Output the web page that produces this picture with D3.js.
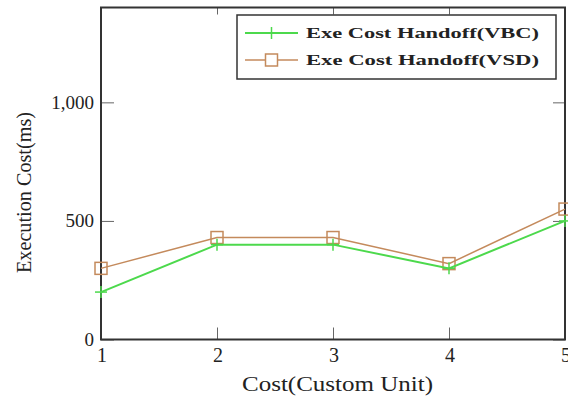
<!DOCTYPE html>
<html><head><meta charset="utf-8">
<script src="https://cdn.jsdelivr.net/npm/d3@7"></script>
<style>body{margin:0;background:#fff}</style>
</head><body>
<svg id="c" width="568" height="403"></svg>
<script>
const categories = [1, 2, 3, 4, 5];
const vbcValues = [200, 400, 400, 300, 500];
const vsdValues = [300, 430, 430, 320, 550];
const yTicks = [0, 500, 1000];
const yTickLabels = ["0", "500", "1,000"];
const seriesNames = ["Exe Cost Handoff(VBC)", "Exe Cost Handoff(VSD)"];

const svg = d3.select("#c");
const L = 101, R = 565, T = 7.5, B = 339.5;
const x = d3.scaleLinear().domain([1, 5]).range([L, R]);
const y = d3.scaleLinear().domain([0, 1400]).range([B, T]);
const font = "'Liberation Serif', 'DejaVu Serif', serif";
const axisColor = "#333";

// ticks (inward, mirrored)
const g = svg.append("g");
const xb = g.append("g").attr("transform", `translate(0,${B})`)
  .call(d3.axisTop(x).tickValues(categories).tickSize(12).tickFormat(""));
const xt = g.append("g").attr("transform", `translate(0,${T})`)
  .call(d3.axisBottom(x).tickValues(categories).tickSize(7).tickFormat(""));
const yl = g.append("g").attr("transform", `translate(${L},0)`)
  .call(d3.axisRight(y).tickValues(yTicks).tickSize(13).tickFormat(""));
const yr = g.append("g").attr("transform", `translate(${R},0)`)
  .call(d3.axisLeft(y).tickValues(yTicks).tickSize(12).tickFormat(""));
[xb, xt, yl, yr].forEach(a => {
  a.select(".domain").remove();
  a.selectAll("line").attr("stroke", "#666").attr("stroke-width", 1);
});

// tick labels
svg.selectAll(".xl").data(categories).enter().append("text")
  .attr("x", d => x(d) + 1).attr("y", 362)
  .attr("text-anchor", "middle").attr("font-family", font).attr("font-size", 20)
  .attr("fill", "#222").text(d => d);
svg.selectAll(".yl").data(yTicks).enter().append("text")
  .attr("x", L - 7).attr("y", d => y(d) + 6.5)
  .attr("text-anchor", "end").attr("font-family", font).attr("font-size", 19)
  .attr("fill", "#222").text((d, i) => yTickLabels[i]);

// frame
svg.append("rect").attr("x", L).attr("y", T).attr("width", R - L).attr("height", B - T)
  .attr("fill", "none").attr("stroke", axisColor).attr("stroke-width", 2);

// axis titles
svg.append("text").attr("x", 337.5).attr("y", 391)
  .attr("text-anchor", "middle").attr("font-family", font).attr("font-size", 20)
  .attr("textLength", 191).attr("lengthAdjust", "spacingAndGlyphs")
  .attr("fill", "#222").text("Cost(Custom Unit)");
svg.append("text").attr("transform", `translate(31,192.5) rotate(-90)`)
  .attr("text-anchor", "middle").attr("font-family", font).attr("font-size", 20)
  .attr("textLength", 161).attr("lengthAdjust", "spacingAndGlyphs")
  .attr("fill", "#222").text("Execution Cost(ms)");

const green = "#4cd94c", brown = "#c48a5c";
const line = d3.line().x((d, i) => x(categories[i])).y(d => y(d));

// VSD
svg.append("path").attr("d", line(vsdValues)).attr("fill", "none")
  .attr("stroke", brown).attr("stroke-width", 1.5);
svg.selectAll(".sq").data(vsdValues).enter().append("rect")
  .attr("x", (d, i) => x(categories[i]) - 6).attr("y", d => y(d) - 6)
  .attr("width", 12).attr("height", 12).attr("fill", "none")
  .attr("stroke", brown).attr("stroke-width", 1.5);
// VBC
svg.append("path").attr("d", line(vbcValues)).attr("fill", "none")
  .attr("stroke", green).attr("stroke-width", 2);
vbcValues.forEach((d, i) => {
  const cx = x(categories[i]), cy = y(d);
  svg.append("line").attr("x1", cx - 6).attr("x2", cx + 6).attr("y1", cy).attr("y2", cy)
    .attr("stroke", green).attr("stroke-width", 1.5);
  svg.append("line").attr("x1", cx).attr("x2", cx).attr("y1", cy - 6).attr("y2", cy + 6)
    .attr("stroke", green).attr("stroke-width", 1.5);
});

// legend
const lg = svg.append("g");
lg.append("rect").attr("x", 237).attr("y", 15).attr("width", 319).attr("height", 64)
  .attr("fill", "#fff").attr("stroke", axisColor).attr("stroke-width", 1.5);
const legY = [33, 60];
const colors = [green, brown];
seriesNames.forEach((name, i) => {
  lg.append("line").attr("x1", 245).attr("x2", 298).attr("y1", legY[i]).attr("y2", legY[i])
    .attr("stroke", colors[i]).attr("stroke-width", i === 0 ? 2 : 1.5);
  if (i === 0) {
    lg.append("line").attr("x1", 271.5).attr("x2", 271.5).attr("y1", legY[i] - 6).attr("y2", legY[i] + 6)
      .attr("stroke", green).attr("stroke-width", 1.5);
  } else {
    lg.append("rect").attr("x", 265.5).attr("y", legY[i] - 6).attr("width", 12).attr("height", 12)
      .attr("fill", "#fff").attr("stroke", brown).attr("stroke-width", 1.5);
  }
  lg.append("text").attr("x", 306).attr("y", legY[i] + 5)
    .attr("font-family", font).attr("font-size", 15).attr("font-weight", "bold")
    .attr("textLength", 233).attr("lengthAdjust", "spacingAndGlyphs")
    .attr("fill", "#222").text(name);
});
</script>
</body></html>
